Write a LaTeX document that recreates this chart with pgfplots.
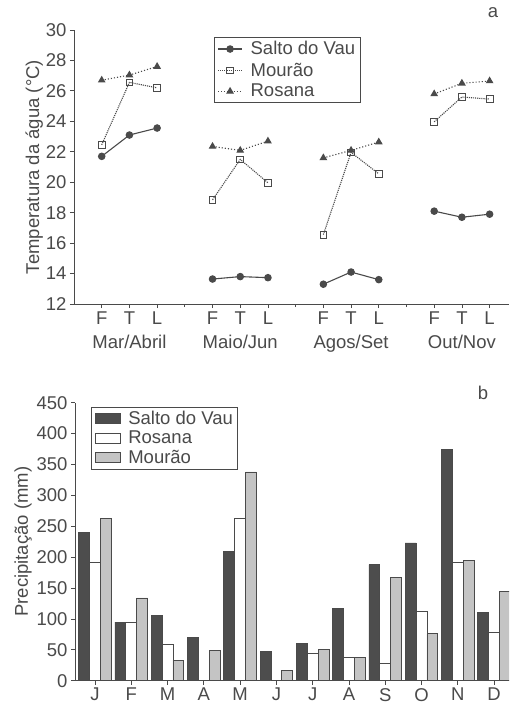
\documentclass[border=0pt]{standalone}
\usepackage{pgfplots}
\pgfplotsset{compat=1.18}
\usepackage{fontspec}
\setmainfont{Liberation Sans}
\definecolor{ink}{HTML}{4A4A4A}
\definecolor{darkbar}{HTML}{4D4D4D}
\definecolor{lightbar}{HTML}{C4C4C4}
\begin{document}
\begin{tikzpicture}
\path[use as bounding box] (0,0) rectangle (509pt,-704pt);
\pgfplotsset{
  every axis/.append style={
    scale only axis,
    axis lines*=left,
    axis line style={ink, line width=0.9pt},
    tick style={ink, line width=0.8pt},
    tick align=outside,
    major tick length=4pt,
    /pgf/number format/assume math mode=true,
    tick label style={font=\fontsize{18.5}{20}\selectfont, text=ink},
    label style={font=\fontsize{18.5}{20}\selectfont, text=ink},
    legend style={font=\fontsize{18.5}{20}\selectfont, text=ink, draw=ink, line width=0.9pt,
      inner xsep=3pt, inner ysep=2pt, legend cell align=left,
      /tikz/every odd column/.append style={column sep=6pt}},
  }
}
% ---------- panel a ----------
\begin{axis}[
  at={(74pt,-304pt)}, anchor=south west,
  width=435pt, height=274pt,
  xmin=-1, xmax=14.7, ymin=12, ymax=30,
  ytick={12,14,...,30},
  xtick={0,1,2,4,5,6,8,9,10,12,13,14},
  xticklabels={F,T,L,F,T,L,F,T,L,F,T,L},
  minor xtick={3,7,11},
  minor tick length=3pt,
  extra x ticks={1,5,9,13},
  extra x tick labels={Mar/Abril,Maio/Jun,Agos/Set,Out/Nov},
  extra x tick style={major tick length=0pt, tick label style={yshift=-28pt}},
  ylabel={Temperatura da água (°C)},
  ylabel style={yshift=-4pt},
  unbounded coords=jump,
  legend style={at={(0.322,0.974)}, anchor=north west, row sep=2.5pt},
  legend image code/.code={%
    \draw[mark repeat=2,mark phase=2,#1] plot coordinates {(0pt,0pt)(12pt,0pt)(24pt,0pt)};},
]
\addplot[ink, line width=1.1pt, mark=*, mark size=3.2pt, mark options={solid, fill=ink}]
  coordinates {(0,21.7)(1,23.1)(2,23.56)(3,nan)(4,13.64)(5,13.8)(6,13.73)(7,nan)
               (8,13.3)(9,14.1)(10,13.6)(11,nan)(12,18.1)(13,17.7)(14,17.9)};
\addlegendentry{Salto do Vau}
\addplot[ink, line width=1.1pt, densely dotted, mark=square, mark size=3.4pt, mark options={solid, fill=white, line width=0.9pt}]
  coordinates {(0,22.46)(1,26.56)(2,26.2)(3,nan)(4,18.84)(5,21.5)(6,19.96)(7,nan)
               (8,16.56)(9,21.96)(10,20.55)(11,nan)(12,23.97)(13,25.6)(14,25.46)};
\addlegendentry{Mourão}
\addplot[ink, line width=1.1pt, dotted, mark=triangle*, mark size=3.4pt, mark options={solid, fill=ink}]
  coordinates {(0,26.7)(1,27.04)(2,27.6)(3,nan)(4,22.35)(5,22.09)(6,22.7)(7,nan)
               (8,21.6)(9,22.09)(10,22.64)(11,nan)(12,25.8)(13,26.5)(14,26.65)};
\addlegendentry{Rosana}
\end{axis}
\node[font=\fontsize{18.5}{20}\selectfont, text=ink] at (493pt,-13pt) {a};
% ---------- panel b ----------
\begin{axis}[
  at={(75pt,-680.7pt)}, anchor=south west,
  width=434pt, height=278pt,
  xmin=-0.55, xmax=11.41, ymin=0, ymax=450,
  ytick={0,50,...,450},
  xtick={0,...,11},
  xticklabels={J,F,M,A,M,J,J,A,S,O,N,D},
  ylabel={Precipitação (mm)},
  ylabel style={yshift=-2pt},
  legend style={at={(0.037,0.985)}, anchor=north west, row sep=1pt},
  legend image code/.code={%
    \draw[#1, line width=0.8pt] (0pt,-5pt) rectangle (25pt,5pt);},
]
\addplot[ybar, bar width=0.3, bar shift=-0.3, draw=ink, fill=darkbar, line width=0.8pt]
  coordinates {(0,240)(1,95)(2,105)(3,70.7)(4,209)(5,48)(6,60)(7,116.6)(8,188)(9,223)(10,374)(11,110)};
\addlegendentry{Salto do Vau}
\addplot[ybar, bar width=0.3, bar shift=0, draw=ink, fill=white, line width=0.8pt]
  coordinates {(0,191.6)(1,95)(2,59)(3,1)(4,262)(5,1)(6,44)(7,37)(8,27.5)(9,112)(10,191.6)(11,79)};
\addlegendentry{Rosana}
\addplot[ybar, bar width=0.3, bar shift=0.3, draw=ink, fill=lightbar, line width=0.8pt]
  coordinates {(0,263)(1,134)(2,33.5)(3,49.6)(4,338)(5,16)(6,50.7)(7,37)(8,167)(9,76)(10,195)(11,144)};
\addlegendentry{Mourão}
\end{axis}
\node[font=\fontsize{18.5}{20}\selectfont, text=ink] at (483pt,-393pt) {b};
\end{tikzpicture}
\end{document}
